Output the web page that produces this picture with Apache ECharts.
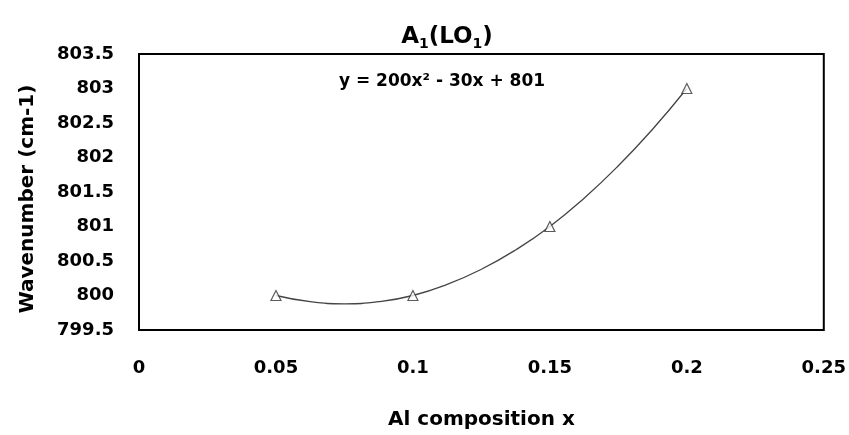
<!DOCTYPE html>
<html>
<head>
<meta charset="utf-8">
<title>A1(LO1)</title>
<script src="https://cdn.jsdelivr.net/npm/echarts@6/dist/echarts.min.js"></script>
<style>
  html, body { margin: 0; padding: 0; background: #fff; }
  #main { width: 849px; height: 435px; }
</style>
</head>
<body>
<div id="main"></div>
<script>
// measured points
var compX = [0.05, 0.1, 0.15, 0.2];
var waveY = [800, 800, 801, 803];

// trendline
var trendX = [0.05, 0.0625, 0.075, 0.0875, 0.1, 0.1125, 0.125, 0.1375, 0.15, 0.1625, 0.175, 0.1875, 0.2];
var trendY = [800, 799.91, 799.88, 799.91, 800, 800.16, 800.38, 800.66, 801, 801.41, 801.88, 802.41, 803];

var fontName = 'DejaVu Sans';

var myChart = echarts.init(document.getElementById('main'));

var pts = [];
for (var i = 0; i < compX.length; i++) {
	pts.push([compX[i], waveY[i]]);
}
var trend = [];
for (var j = 0; j < trendX.length; j++) {
	trend.push([trendX[j], trendY[j]]);
}

var option = {
	backgroundColor: '#fff',
	animation: false,
	title: [{
		text: '{n|A}{s|1}{n|(LO}{s|1}{n|)}',
		left: 442,
		top: 18,
		textAlign: 'center',
		textStyle: {
			rich: {
				n: { fontFamily: fontName, fontSize: 23, fontWeight: 'bold', color: '#000' },
				s: { fontFamily: fontName, fontSize: 14, fontWeight: 'bold', color: '#000', padding: [14, 0, 0, 0] }
			}
		}
	}, {
		text: 'y = 200x² - 30x + 801',
		left: 437,
		top: 68,
		textAlign: 'center',
		textStyle: { fontFamily: fontName, fontSize: 17, fontWeight: 'bold', color: '#000' }
	}],
	grid: {
		left: 139,
		right: 25,
		top: 54,
		bottom: 102,
		show: true,
		borderColor: '#000',
		borderWidth: 2,
		backgroundColor: '#fff'
	},
	xAxis: {
		type: 'value',
		min: 0,
		max: 0.25,
		interval: 0.05,
		name: 'Al composition x',
		nameLocation: 'middle',
		nameGap: 80,
		nameTextStyle: { fontFamily: fontName, fontSize: 20, fontWeight: 'bold', color: '#000' },
		axisLine: { show: false },
		axisTick: { show: false },
		splitLine: { show: false },
		axisLabel: { margin: 29, fontFamily: fontName, fontSize: 18, fontWeight: 'bold', color: '#000' }
	},
	yAxis: {
		type: 'value',
		min: 799.5,
		max: 803.5,
		interval: 0.5,
		name: 'Wavenumber (cm-1)',
		nameLocation: 'middle',
		nameRotate: 90,
		nameGap: 101,
		nameTextStyle: { fontFamily: fontName, fontSize: 20, fontWeight: 'bold', color: '#000', padding: [0, 14, 0, 0] },
		axisLine: { show: false },
		axisTick: { show: false },
		splitLine: { show: false },
		axisLabel: { margin: 25, fontFamily: fontName, fontSize: 18, fontWeight: 'bold', color: '#000' }
	},
	series: [{
		name: 'trend',
		type: 'line',
		data: trend,
		smooth: true,
		showSymbol: false,
		lineStyle: { color: '#444', width: 1.3 },
		z: 2
	}, {
		name: 'data',
		type: 'scatter',
		data: pts,
		symbol: 'triangle',
		symbolSize: 10,
		itemStyle: { color: '#fff', borderColor: '#333', borderWidth: 1.2 },
		z: 3
	}]
};

myChart.setOption(option);
</script>
</body>
</html>
